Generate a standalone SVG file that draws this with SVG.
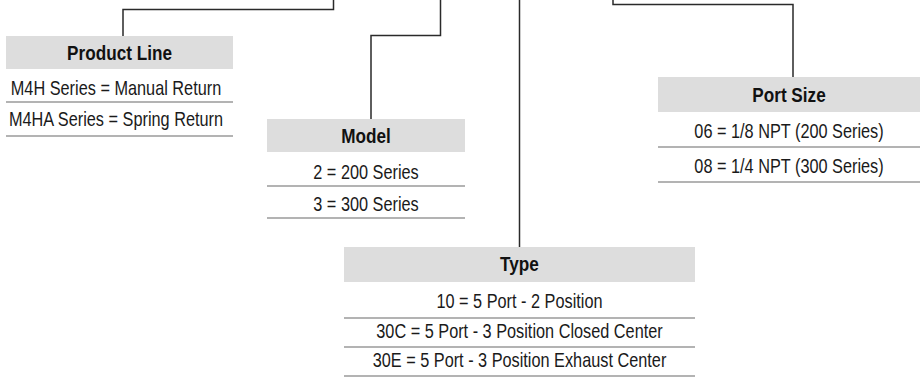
<svg xmlns="http://www.w3.org/2000/svg" width="922" height="391" viewBox="0 0 922 391">
<style>
.hdr{fill:#dddddd}
.sep{stroke:#9a9a9a;stroke-width:1.5;fill:none}
.con{stroke:#2a2a2a;stroke-width:1.5;fill:none}
text{font-family:"Liberation Sans",Arial,sans-serif;text-anchor:middle;fill:#1a1a1a}
.t{font-size:20.5px}
.h{font-size:19.5px;font-weight:bold;fill:#111}
</style>
<rect width="922" height="391" fill="#ffffff"/>
<g id="connectors">
<path class="con" d="M333.5,0 V9.5 H123 V36"/>
<path class="con" d="M440.5,0 V35.5 H371 V119"/>
<path class="con" d="M519.5,0 V247"/>
<path class="con" d="M613,0 V4.5 H793 V77"/>
</g>
<g id="product-line">
<rect class="hdr" x="6" y="36" width="227" height="33"/>
<text class="h" transform="translate(119.5,60) scale(0.88,1)">Product Line</text>
<text class="t" transform="translate(116,94.5) scale(0.795,1)">M4H Series = Manual Return</text>
<line class="sep" x1="6" y1="102" x2="233" y2="102"/>
<text class="t" transform="translate(116,126) scale(0.795,1)">M4HA Series = Spring Return</text>
<line class="sep" x1="6" y1="136" x2="233" y2="136"/>
</g>
<g id="model">
<rect class="hdr" x="267" y="119" width="198" height="33"/>
<text class="h" transform="translate(366,143) scale(0.88,1)">Model</text>
<text class="t" transform="translate(366,178.5) scale(0.795,1)">2 = 200 Series</text>
<line class="sep" x1="267" y1="186" x2="465" y2="186"/>
<text class="t" transform="translate(366,210.5) scale(0.795,1)">3 = 300 Series</text>
<line class="sep" x1="267" y1="218" x2="465" y2="218"/>
</g>
<g id="type">
<rect class="hdr" x="344" y="247" width="351" height="35"/>
<text class="h" transform="translate(519.5,271) scale(0.88,1)">Type</text>
<text class="t" transform="translate(519.5,308) scale(0.795,1)">10 = 5 Port - 2 Position</text>
<line class="sep" x1="344" y1="318" x2="695" y2="318"/>
<text class="t" transform="translate(519.5,337.5) scale(0.795,1)">30C = 5 Port - 3 Position Closed Center</text>
<line class="sep" x1="344" y1="347" x2="695" y2="347"/>
<text class="t" transform="translate(519.5,366.5) scale(0.795,1)">30E = 5 Port - 3 Position Exhaust Center</text>
<line class="sep" x1="344" y1="376" x2="695" y2="376"/>
</g>
<g id="port-size">
<rect class="hdr" x="658" y="77" width="262" height="35"/>
<text class="h" transform="translate(789,102) scale(0.88,1)">Port Size</text>
<text class="t" transform="translate(789,138) scale(0.795,1)">06 = 1/8 NPT (200 Series)</text>
<line class="sep" x1="658" y1="147" x2="920" y2="147"/>
<text class="t" transform="translate(789,173) scale(0.795,1)">08 = 1/4 NPT (300 Series)</text>
<line class="sep" x1="658" y1="182" x2="920" y2="182"/>
</g>
</svg>
